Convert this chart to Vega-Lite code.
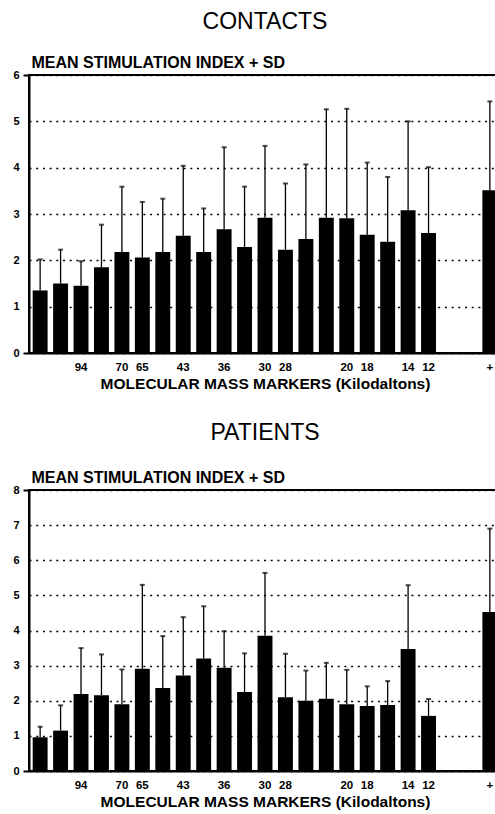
{
  "$schema": "https://vega.github.io/schema/vega-lite/v6.json",
  "padding": {"left": 11, "top": 10, "right": 0, "bottom": 0},
  "background": "white",
  "spacing": 28,
  "datasets": {
    "contacts": [
      {"lane": 1, "mean": 1.35, "upper": 2.02},
      {"lane": 2, "mean": 1.50, "upper": 2.23},
      {"lane": 3, "mean": 1.45, "upper": 1.98},
      {"lane": 4, "mean": 1.85, "upper": 2.77},
      {"lane": 5, "mean": 2.18, "upper": 3.59},
      {"lane": 6, "mean": 2.06, "upper": 3.26},
      {"lane": 7, "mean": 2.18, "upper": 3.33},
      {"lane": 8, "mean": 2.53, "upper": 4.04},
      {"lane": 9, "mean": 2.18, "upper": 3.12},
      {"lane": 10, "mean": 2.67, "upper": 4.44},
      {"lane": 11, "mean": 2.29, "upper": 3.59},
      {"lane": 12, "mean": 2.92, "upper": 4.47},
      {"lane": 13, "mean": 2.23, "upper": 3.66},
      {"lane": 14, "mean": 2.46, "upper": 4.07},
      {"lane": 15, "mean": 2.92, "upper": 5.26},
      {"lane": 16, "mean": 2.91, "upper": 5.27},
      {"lane": 17, "mean": 2.55, "upper": 4.11},
      {"lane": 18, "mean": 2.40, "upper": 3.80},
      {"lane": 19, "mean": 3.08, "upper": 5.00},
      {"lane": 20, "mean": 2.59, "upper": 4.01},
      {"lane": 23, "mean": 3.51, "upper": 5.43}
    ],
    "patients": [
      {"lane": 1, "mean": 0.96, "upper": 1.26},
      {"lane": 2, "mean": 1.15, "upper": 1.87},
      {"lane": 3, "mean": 2.19, "upper": 3.50},
      {"lane": 4, "mean": 2.16, "upper": 3.32},
      {"lane": 5, "mean": 1.90, "upper": 2.89},
      {"lane": 6, "mean": 2.91, "upper": 5.30},
      {"lane": 7, "mean": 2.36, "upper": 3.84},
      {"lane": 8, "mean": 2.72, "upper": 4.38},
      {"lane": 9, "mean": 3.20, "upper": 4.69},
      {"lane": 10, "mean": 2.94, "upper": 3.98},
      {"lane": 11, "mean": 2.25, "upper": 3.35},
      {"lane": 12, "mean": 3.85, "upper": 5.64},
      {"lane": 13, "mean": 2.10, "upper": 3.34},
      {"lane": 14, "mean": 2.00, "upper": 2.86},
      {"lane": 15, "mean": 2.06, "upper": 3.08},
      {"lane": 16, "mean": 1.90, "upper": 2.88},
      {"lane": 17, "mean": 1.85, "upper": 2.41},
      {"lane": 18, "mean": 1.88, "upper": 2.56},
      {"lane": 19, "mean": 3.47, "upper": 5.29},
      {"lane": 20, "mean": 1.57, "upper": 2.05},
      {"lane": 23, "mean": 4.53, "upper": 6.90}
    ]
  },
  "vconcat": [
    {
      "title": {"text": "CONTACTS", "offset": 20},
      "width": 472,
      "height": 278,
      "data": {"name": "contacts"},
      "encoding": {
        "x": {
          "field": "lane", "type": "ordinal",
          "scale": {"domain": [1,2,3,4,5,6,7,8,9,10,11,12,13,14,15,16,17,18,19,20,21,22,23], "paddingInner": 0.27, "paddingOuter": 0.18},
          "axis": {
            "title": "MOLECULAR MASS MARKERS (Kilodaltons)",
            "labelExpr": "{'3':'94','5':'70','6':'65','8':'43','10':'36','12':'30','13':'28','16':'20','17':'18','19':'14','20':'12','23':'+'}[datum.label] || ''"
          }
        }
      },
      "layer": [
        {
          "mark": {"type": "bar", "color": "black"},
          "encoding": {
            "y": {
              "field": "mean", "type": "quantitative",
              "scale": {"domain": [0, 6], "nice": false},
              "axis": {"title": "MEAN STIMULATION INDEX + SD", "values": [0, 1, 2, 3, 4, 5, 6],
                "tickColor": {"condition": {"test": "datum.value == 0 || datum.value == 6", "value": "black"}, "value": "transparent"}}
            }
          }
        },
        {
          "mark": {"type": "rule", "color": "black", "strokeWidth": 1.3},
          "encoding": {
            "y": {"field": "mean", "type": "quantitative",
              "axis": {"title": "MEAN STIMULATION INDEX + SD", "values": [0, 1, 2, 3, 4, 5, 6],
                "tickColor": {"condition": {"test": "datum.value == 0 || datum.value == 6", "value": "black"}, "value": "transparent"}}},
            "y2": {"field": "upper"}
          }
        },
        {
          "mark": {"type": "tick", "color": "black", "size": 5, "thickness": 2},
          "encoding": {
            "y": {"field": "upper", "type": "quantitative",
              "axis": {"title": "MEAN STIMULATION INDEX + SD", "values": [0, 1, 2, 3, 4, 5, 6],
                "tickColor": {"condition": {"test": "datum.value == 0 || datum.value == 6", "value": "black"}, "value": "transparent"}}}
          }
        }
      ]
    },
    {
      "title": {"text": "PATIENTS", "offset": 24},
      "width": 472,
      "height": 281,
      "data": {"name": "patients"},
      "encoding": {
        "x": {
          "field": "lane", "type": "ordinal",
          "scale": {"domain": [1,2,3,4,5,6,7,8,9,10,11,12,13,14,15,16,17,18,19,20,21,22,23], "paddingInner": 0.27, "paddingOuter": 0.18},
          "axis": {
            "title": "MOLECULAR MASS MARKERS (Kilodaltons)",
            "labelExpr": "{'3':'94','5':'70','6':'65','8':'43','10':'36','12':'30','13':'28','16':'20','17':'18','19':'14','20':'12','23':'+'}[datum.label] || ''"
          }
        }
      },
      "layer": [
        {
          "mark": {"type": "bar", "color": "black"},
          "encoding": {
            "y": {
              "field": "mean", "type": "quantitative",
              "scale": {"domain": [0, 8], "nice": false},
              "axis": {"title": "MEAN STIMULATION INDEX + SD", "values": [0, 1, 2, 3, 4, 5, 6, 7, 8],
                "tickColor": {"condition": {"test": "datum.value == 0 || datum.value == 8", "value": "black"}, "value": "transparent"}}
            }
          }
        },
        {
          "mark": {"type": "rule", "color": "black", "strokeWidth": 1.3},
          "encoding": {
            "y": {"field": "mean", "type": "quantitative",
              "axis": {"title": "MEAN STIMULATION INDEX + SD", "values": [0, 1, 2, 3, 4, 5, 6, 7, 8],
                "tickColor": {"condition": {"test": "datum.value == 0 || datum.value == 8", "value": "black"}, "value": "transparent"}}},
            "y2": {"field": "upper"}
          }
        },
        {
          "mark": {"type": "tick", "color": "black", "size": 5, "thickness": 2},
          "encoding": {
            "y": {"field": "upper", "type": "quantitative",
              "axis": {"title": "MEAN STIMULATION INDEX + SD", "values": [0, 1, 2, 3, 4, 5, 6, 7, 8],
                "tickColor": {"condition": {"test": "datum.value == 0 || datum.value == 8", "value": "black"}, "value": "transparent"}}}
          }
        }
      ]
    }
  ],
  "config": {
    "font": "Liberation Sans",
    "view": {"stroke": "black", "strokeWidth": 2},
    "title": {"fontSize": 23, "fontWeight": "normal", "color": "black", "anchor": "middle", "frame": "group"},
    "axisX": {
      "labelAngle": 0, "ticks": false, "grid": false, "labelPadding": 8,
      "labelFontSize": 11.5, "labelFontWeight": "bold", "labelColor": "black",
      "titleFontSize": 15.5, "titleFontWeight": "bold", "titleColor": "black", "titlePadding": 4,
      "domainColor": "black", "domainWidth": 2
    },
    "axisY": {
      "titleAngle": 0, "titleAlign": "left", "titleBaseline": "alphabetic", "titleX": 2, "titleY": -8,
      "titleFontSize": 16, "titleFontWeight": "bold", "titleColor": "black",
      "labelFontSize": 11, "labelFontWeight": "bold", "labelColor": "black", "labelPadding": 4,
      "tickSize": 6, "tickWidth": 2,
      "domainColor": "black", "domainWidth": 2,
      "grid": true, "gridColor": "black", "gridDash": [2, 4.7], "gridWidth": 1.7
    }
  }
}
